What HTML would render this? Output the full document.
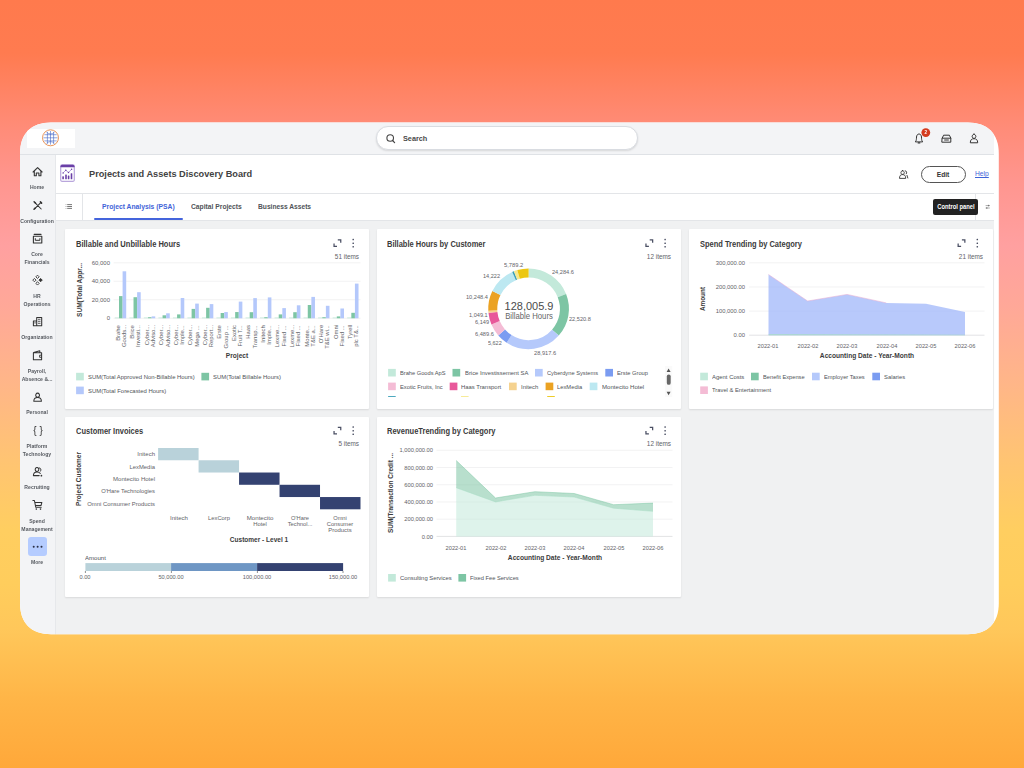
<!DOCTYPE html><html><head><meta charset="utf-8"><title>Projects and Assets Discovery Board</title><style>
*{margin:0;padding:0;box-sizing:border-box}
html,body{width:1024px;height:768px;overflow:hidden}
body{font-family:"Liberation Sans",sans-serif;position:relative;
background:linear-gradient(180deg,#ff7a4d 0%,#ff7b50 7%,#ff8b76 16%,#ff9690 24%,#ffa0a0 32%,#ffa898 40%,#ffb688 50%,#ffc472 60%,#ffce60 69%,#ffcd5c 76%,#ffc75a 82%,#ffb547 91%,#ffa83a 100%);}
.win{position:absolute;left:20px;top:122px;width:979px;height:513px;background:#fff;overflow:hidden;clip-path:path('M0 31.5C0 11.66 11.16 0.5 31 0.5L947.8 0.5C967.64 0.5 978.8 11.66 978.8 31.5L978.8 481.20C978.8 501.04 967.64 512.2 947.8 512.2L31 512.2C11.16 512.2 0 501.04 0 481.20Z')}
.inner{position:absolute;left:0;top:0;width:979px;height:513px;filter:blur(0.4px)}
.abs{position:absolute}
.t{position:absolute;white-space:nowrap;line-height:1}
.topbar{position:absolute;left:0;top:0;width:974px;height:33px;background:#f3f4f6;border-bottom:1px solid #dfe2e6}
.side{position:absolute;left:0;top:33px;width:36px;height:480px;background:#f3f4f6;border-right:1px solid #e6e8eb}
.hdr{position:absolute;left:36px;top:33px;width:938px;height:39px;background:#fff;border-bottom:1px solid #e3e5e8}
.tabs{position:absolute;left:36px;top:72px;width:938px;height:27px;background:#fff;border-bottom:1px solid #e3e5e8}
.content{position:absolute;left:36px;top:99px;width:938px;height:414px;background:#f0f1f2}
.card{position:absolute;width:304px;height:180px;background:#fff;border-radius:1px;box-shadow:0 1px 2px rgba(0,0,0,.10)}
svg{position:absolute;left:0;top:0;overflow:visible}
</style></head><body>
<div class="win"><div class="inner">
<div class="topbar"></div>
<div class="side"></div>
<div class="hdr"></div>
<div class="tabs"></div>
<div class="content"></div>
<div class="abs" style="left:7.00px;top:6.50px;width:48.00px;height:19.50px;background:#fff"></div>
<div class="abs" style="left:356.00px;top:4.30px;width:261.50px;height:23.70px;background:#fff;border-radius:12px;border:1px solid #d9dce1;box-shadow:0 1px 2px rgba(0,0,0,.12)"></div>
<div class="t" style="left:382.50px;top:13px;font-size:8px;color:#4a4a4a;font-weight:bold;transform-origin:0 50%;transform: scaleX(0.911);">Search</div>
<div class="t" style="left:69.40px;top:47px;font-size:9.5px;color:#424242;font-weight:bold;transform-origin:0 50%;transform: scaleX(0.968);">Projects and Assets Discovery Board</div>
<div class="t" style="left:82.25px;top:81px;font-size:7.4px;color:#3f63d8;font-weight:bold;transform-origin:0 50%;transform: scaleX(0.915);">Project Analysis (PSA)</div>
<div class="t" style="left:170.70px;top:81px;font-size:7.4px;color:#4f5358;font-weight:bold;transform-origin:0 50%;transform: scaleX(0.910);">Capital Projects</div>
<div class="t" style="left:237.60px;top:81px;font-size:7.4px;color:#4f5358;font-weight:bold;transform-origin:0 50%;transform: scaleX(0.901);">Business Assets</div>
<div class="abs" style="left:74.00px;top:96.00px;width:89.00px;height:2.30px;background:#4464dc;border-radius:1px"></div>
<div class="abs" style="left:62.30px;top:72.00px;width:1.00px;height:26.00px;background:#e3e5e8"></div>
<div class="abs" style="left:955.30px;top:72.00px;width:1.00px;height:26.00px;background:#e3e5e8"></div>
<div class="abs" style="left:900.80px;top:44.00px;width:45.00px;height:16.50px;border:1px solid #555;border-radius:9px;background:#fff"></div>
<div class="t" style="left:923.30px;top:49px;font-size:7.2px;color:#333;font-weight:bold;transform-origin:50% 50%;transform:translateX(-50%) scaleX(0.927);">Edit</div>
<div class="t" style="left:955.00px;top:48px;font-size:7.2px;color:#3f63d8;transform-origin:0 50%;transform: scaleX(0.932);text-decoration:underline">Help</div>
<div class="abs" style="left:913.20px;top:77.00px;width:45.00px;height:15.80px;background:#222;border-radius:2px"></div>
<div class="t" style="left:935.70px;top:82px;font-size:6.4px;color:#fff;font-weight:bold;transform-origin:50% 50%;transform:translateX(-50%) scaleX(0.909);">Control panel</div>
<div class="t" style="left:17.40px;top:63px;font-size:5.5px;color:#565a60;font-weight:bold;transform-origin:50% 50%;transform:translateX(-50%) scaleX(0.930);">Home</div>
<div class="t" style="left:17.40px;top:97px;font-size:5.5px;color:#565a60;font-weight:bold;transform-origin:50% 50%;transform:translateX(-50%) scaleX(0.930);">Configuration</div>
<div class="t" style="left:17.40px;top:130px;font-size:5.5px;color:#565a60;font-weight:bold;transform-origin:50% 50%;transform:translateX(-50%) scaleX(0.930);">Core</div>
<div class="t" style="left:17.40px;top:138px;font-size:5.5px;color:#565a60;font-weight:bold;transform-origin:50% 50%;transform:translateX(-50%) scaleX(0.930);">Financials</div>
<div class="t" style="left:17.40px;top:172px;font-size:5.5px;color:#565a60;font-weight:bold;transform-origin:50% 50%;transform:translateX(-50%) scaleX(0.930);">HR</div>
<div class="t" style="left:17.40px;top:180px;font-size:5.5px;color:#565a60;font-weight:bold;transform-origin:50% 50%;transform:translateX(-50%) scaleX(0.930);">Operations</div>
<div class="t" style="left:17.40px;top:213px;font-size:5.5px;color:#565a60;font-weight:bold;transform-origin:50% 50%;transform:translateX(-50%) scaleX(0.930);">Organization</div>
<div class="t" style="left:17.40px;top:247px;font-size:5.5px;color:#565a60;font-weight:bold;transform-origin:50% 50%;transform:translateX(-50%) scaleX(0.930);">Payroll,</div>
<div class="t" style="left:17.40px;top:255px;font-size:5.5px;color:#565a60;font-weight:bold;transform-origin:50% 50%;transform:translateX(-50%) scaleX(0.930);">Absence &amp;...</div>
<div class="t" style="left:17.40px;top:288px;font-size:5.5px;color:#565a60;font-weight:bold;transform-origin:50% 50%;transform:translateX(-50%) scaleX(0.930);">Personal</div>
<div class="t" style="left:17.40px;top:322px;font-size:5.5px;color:#565a60;font-weight:bold;transform-origin:50% 50%;transform:translateX(-50%) scaleX(0.930);">Platform</div>
<div class="t" style="left:17.40px;top:330px;font-size:5.5px;color:#565a60;font-weight:bold;transform-origin:50% 50%;transform:translateX(-50%) scaleX(0.930);">Technology</div>
<div class="t" style="left:17.40px;top:363px;font-size:5.5px;color:#565a60;font-weight:bold;transform-origin:50% 50%;transform:translateX(-50%) scaleX(0.930);">Recruiting</div>
<div class="t" style="left:17.40px;top:397px;font-size:5.5px;color:#565a60;font-weight:bold;transform-origin:50% 50%;transform:translateX(-50%) scaleX(0.930);">Spend</div>
<div class="t" style="left:17.40px;top:405px;font-size:5.5px;color:#565a60;font-weight:bold;transform-origin:50% 50%;transform:translateX(-50%) scaleX(0.930);">Management</div>
<div class="t" style="left:17.40px;top:438px;font-size:5.5px;color:#565a60;font-weight:bold;transform-origin:50% 50%;transform:translateX(-50%) scaleX(0.930);">More</div>
<div class="abs" style="left:7.75px;top:415.00px;width:19.50px;height:19.30px;background:#b5ccff;border-radius:3px"></div>
<div class="card" style="left:45px;top:107px"></div>
<div class="card" style="left:357px;top:107px"></div>
<div class="card" style="left:669px;top:107px"></div>
<div class="card" style="left:45px;top:295px"></div>
<div class="card" style="left:357px;top:295px"></div>
<div class="t" style="left:55.60px;top:118px;font-size:8.8px;color:#3b3b3b;font-weight:bold;transform-origin:0 50%;transform: scaleX(0.856);">Billable and Unbillable Hours</div>
<div class="t" style="left:367.30px;top:118px;font-size:8.8px;color:#3b3b3b;font-weight:bold;transform-origin:0 50%;transform: scaleX(0.853);">Billable Hours by Customer</div>
<div class="t" style="left:679.70px;top:118px;font-size:8.8px;color:#3b3b3b;font-weight:bold;transform-origin:0 50%;transform: scaleX(0.851);">Spend Trending by Category</div>
<div class="t" style="left:55.60px;top:305px;font-size:8.8px;color:#3b3b3b;font-weight:bold;transform-origin:0 50%;transform: scaleX(0.853);">Customer Invoices</div>
<div class="t" style="left:367.30px;top:305px;font-size:8.8px;color:#3b3b3b;font-weight:bold;transform-origin:0 50%;transform: scaleX(0.854);">RevenueTrending by Category</div>
<div class="t" style="left:338.90px;top:132px;font-size:6.8px;color:#5f6368;transform-origin:100% 50%;transform:translateX(-100%) scaleX(0.940);">51 items</div>
<div class="t" style="left:650.80px;top:132px;font-size:6.8px;color:#5f6368;transform-origin:100% 50%;transform:translateX(-100%) scaleX(0.940);">12 items</div>
<div class="t" style="left:963.00px;top:132px;font-size:6.8px;color:#5f6368;transform-origin:100% 50%;transform:translateX(-100%) scaleX(0.940);">21 items</div>
<div class="t" style="left:338.90px;top:319px;font-size:6.8px;color:#5f6368;transform-origin:100% 50%;transform:translateX(-100%) scaleX(0.940);">5 items</div>
<div class="t" style="left:650.80px;top:319px;font-size:6.8px;color:#5f6368;transform-origin:100% 50%;transform:translateX(-100%) scaleX(0.940);">12 items</div>
<div class="t" style="left:89.70px;top:138px;font-size:6.1px;color:#5f6368;transform-origin:100% 50%;transform:translateX(-100%) scaleX(0.980);">60,000</div>
<div class="t" style="left:89.70px;top:156px;font-size:6.1px;color:#5f6368;transform-origin:100% 50%;transform:translateX(-100%) scaleX(0.980);">40,000</div>
<div class="t" style="left:89.70px;top:175px;font-size:6.1px;color:#5f6368;transform-origin:100% 50%;transform:translateX(-100%) scaleX(0.980);">20,000</div>
<div class="t" style="left:89.70px;top:193px;font-size:6.1px;color:#5f6368;transform-origin:100% 50%;transform:translateX(-100%) scaleX(0.980);">0</div>
<div class="t" style="left:59.50px;top:168.00px;font-size:6.6px;color:#3b3b3b;font-weight:bold;transform-origin:50% 50%;transform:translate(-50%,-50%) rotate(-90deg) translateY(0.8%) scaleX(0.995);">SUM(Total Appr...</div>
<div class="t" style="left:97.76px;top:211.05px;font-size:6.0px;color:#5f6368;transform-origin:50% 50%;transform:translate(-50%,-50%) rotate(-90deg) translateY(0.8%) scaleX(0.980);">Brahe</div>
<div class="t" style="left:103.96px;top:214.31px;font-size:6.0px;color:#5f6368;transform-origin:50% 50%;transform:translate(-50%,-50%) rotate(-90deg) translateY(0.8%) scaleX(0.980);">Goods...</div>
<div class="t" style="left:112.28px;top:209.90px;font-size:6.0px;color:#5f6368;transform-origin:50% 50%;transform:translate(-50%,-50%) rotate(-90deg) translateY(0.8%) scaleX(0.980);">Brice</div>
<div class="t" style="left:118.48px;top:214.15px;font-size:6.0px;color:#5f6368;transform-origin:50% 50%;transform:translate(-50%,-50%) rotate(-90deg) translateY(0.8%) scaleX(0.980);">Investi...</div>
<div class="t" style="left:126.80px;top:213.33px;font-size:6.0px;color:#5f6368;transform-origin:50% 50%;transform:translate(-50%,-50%) rotate(-90deg) translateY(0.8%) scaleX(0.980);">Cyber...</div>
<div class="t" style="left:133.00px;top:214.47px;font-size:6.0px;color:#5f6368;transform-origin:50% 50%;transform:translate(-50%,-50%) rotate(-90deg) translateY(0.8%) scaleX(0.980);">Adviso...</div>
<div class="t" style="left:141.32px;top:213.33px;font-size:6.0px;color:#5f6368;transform-origin:50% 50%;transform:translate(-50%,-50%) rotate(-90deg) translateY(0.8%) scaleX(0.980);">Cyber...</div>
<div class="t" style="left:147.52px;top:214.47px;font-size:6.0px;color:#5f6368;transform-origin:50% 50%;transform:translate(-50%,-50%) rotate(-90deg) translateY(0.8%) scaleX(0.980);">Adviso...</div>
<div class="t" style="left:155.84px;top:213.33px;font-size:6.0px;color:#5f6368;transform-origin:50% 50%;transform:translate(-50%,-50%) rotate(-90deg) translateY(0.8%) scaleX(0.980);">Cyber...</div>
<div class="t" style="left:162.04px;top:212.84px;font-size:6.0px;color:#5f6368;transform-origin:50% 50%;transform:translate(-50%,-50%) rotate(-90deg) translateY(0.8%) scaleX(0.980);">Imple...</div>
<div class="t" style="left:170.36px;top:213.33px;font-size:6.0px;color:#5f6368;transform-origin:50% 50%;transform:translate(-50%,-50%) rotate(-90deg) translateY(0.8%) scaleX(0.980);">Cyber...</div>
<div class="t" style="left:176.56px;top:213.82px;font-size:6.0px;color:#5f6368;transform-origin:50% 50%;transform:translate(-50%,-50%) rotate(-90deg) translateY(0.8%) scaleX(0.980);">Mega ...</div>
<div class="t" style="left:184.88px;top:213.33px;font-size:6.0px;color:#5f6368;transform-origin:50% 50%;transform:translate(-50%,-50%) rotate(-90deg) translateY(0.8%) scaleX(0.980);">Cyber...</div>
<div class="t" style="left:191.08px;top:214.47px;font-size:6.0px;color:#5f6368;transform-origin:50% 50%;transform:translate(-50%,-50%) rotate(-90deg) translateY(0.8%) scaleX(0.980);">Report...</div>
<div class="t" style="left:199.40px;top:210.06px;font-size:6.0px;color:#5f6368;transform-origin:50% 50%;transform:translate(-50%,-50%) rotate(-90deg) translateY(0.8%) scaleX(0.980);">Erste</div>
<div class="t" style="left:205.60px;top:214.64px;font-size:6.0px;color:#5f6368;transform-origin:50% 50%;transform:translate(-50%,-50%) rotate(-90deg) translateY(0.8%) scaleX(0.980);">Group ...</div>
<div class="t" style="left:213.92px;top:211.21px;font-size:6.0px;color:#5f6368;transform-origin:50% 50%;transform:translate(-50%,-50%) rotate(-90deg) translateY(0.8%) scaleX(0.980);">Exotic</div>
<div class="t" style="left:220.12px;top:213.76px;font-size:6.0px;color:#5f6368;transform-origin:50% 50%;transform:translate(-50%,-50%) rotate(-90deg) translateY(0.8%) scaleX(0.980);">Fruit T...</div>
<div class="t" style="left:228.44px;top:210.06px;font-size:6.0px;color:#5f6368;transform-origin:50% 50%;transform:translate(-50%,-50%) rotate(-90deg) translateY(0.8%) scaleX(0.980);">Haas</div>
<div class="t" style="left:234.64px;top:214.69px;font-size:6.0px;color:#5f6368;transform-origin:50% 50%;transform:translate(-50%,-50%) rotate(-90deg) translateY(0.8%) scaleX(0.980);">Transp...</div>
<div class="t" style="left:242.96px;top:211.86px;font-size:6.0px;color:#5f6368;transform-origin:50% 50%;transform:translate(-50%,-50%) rotate(-90deg) translateY(0.8%) scaleX(0.980);">Initech</div>
<div class="t" style="left:249.16px;top:212.84px;font-size:6.0px;color:#5f6368;transform-origin:50% 50%;transform:translate(-50%,-50%) rotate(-90deg) translateY(0.8%) scaleX(0.980);">Imple...</div>
<div class="t" style="left:257.48px;top:214.47px;font-size:6.0px;color:#5f6368;transform-origin:50% 50%;transform:translate(-50%,-50%) rotate(-90deg) translateY(0.8%) scaleX(0.980);">Lexme...</div>
<div class="t" style="left:263.68px;top:213.66px;font-size:6.0px;color:#5f6368;transform-origin:50% 50%;transform:translate(-50%,-50%) rotate(-90deg) translateY(0.8%) scaleX(0.980);">Fixed ...</div>
<div class="t" style="left:272.00px;top:214.47px;font-size:6.0px;color:#5f6368;transform-origin:50% 50%;transform:translate(-50%,-50%) rotate(-90deg) translateY(0.8%) scaleX(0.980);">Lexme...</div>
<div class="t" style="left:278.20px;top:213.66px;font-size:6.0px;color:#5f6368;transform-origin:50% 50%;transform:translate(-50%,-50%) rotate(-90deg) translateY(0.8%) scaleX(0.980);">Fixed ...</div>
<div class="t" style="left:286.52px;top:213.82px;font-size:6.0px;color:#5f6368;transform-origin:50% 50%;transform:translate(-50%,-50%) rotate(-90deg) translateY(0.8%) scaleX(0.980);">Monte...</div>
<div class="t" style="left:292.72px;top:213.82px;font-size:6.0px;color:#5f6368;transform-origin:50% 50%;transform:translate(-50%,-50%) rotate(-90deg) translateY(0.8%) scaleX(0.980);">T&amp;E a...</div>
<div class="t" style="left:301.04px;top:212.42px;font-size:6.0px;color:#5f6368;transform-origin:50% 50%;transform:translate(-50%,-50%) rotate(-90deg) translateY(0.8%) scaleX(0.980);">O'Hare</div>
<div class="t" style="left:307.24px;top:214.96px;font-size:6.0px;color:#5f6368;transform-origin:50% 50%;transform:translate(-50%,-50%) rotate(-90deg) translateY(0.8%) scaleX(0.980);">T&amp;E wi...</div>
<div class="t" style="left:315.56px;top:210.22px;font-size:6.0px;color:#5f6368;transform-origin:50% 50%;transform:translate(-50%,-50%) rotate(-90deg) translateY(0.8%) scaleX(0.980);">Omni</div>
<div class="t" style="left:321.76px;top:213.66px;font-size:6.0px;color:#5f6368;transform-origin:50% 50%;transform:translate(-50%,-50%) rotate(-90deg) translateY(0.8%) scaleX(0.980);">Fixed ...</div>
<div class="t" style="left:330.08px;top:210.22px;font-size:6.0px;color:#5f6368;transform-origin:50% 50%;transform:translate(-50%,-50%) rotate(-90deg) translateY(0.8%) scaleX(0.980);">Tyrell</div>
<div class="t" style="left:336.28px;top:213.93px;font-size:6.0px;color:#5f6368;transform-origin:50% 50%;transform:translate(-50%,-50%) rotate(-90deg) translateY(0.8%) scaleX(0.980);">plc T&amp;...</div>
<div class="t" style="left:217.20px;top:230px;font-size:7.2px;color:#3b3b3b;font-weight:bold;transform-origin:50% 50%;transform:translateX(-50%) scaleX(0.914);">Project</div>
<div class="t" style="left:67.80px;top:252px;font-size:6.2px;color:#4f5358;transform-origin:0 50%;transform: scaleX(0.952);">SUM(Total Approved Non-Billable Hours)</div>
<div class="t" style="left:193.10px;top:252px;font-size:6.2px;color:#4f5358;transform-origin:0 50%;transform: scaleX(0.958);">SUM(Total Billable Hours)</div>
<div class="t" style="left:67.80px;top:266px;font-size:6.2px;color:#4f5358;transform-origin:0 50%;transform: scaleX(0.956);">SUM(Total Forecasted Hours)</div>
<div class="t" style="left:483.90px;top:140px;font-size:6.1px;color:#5f6368;transform-origin:0 50%;transform: scaleX(0.943);">5,789.2</div>
<div class="t" style="left:532.00px;top:147px;font-size:6.1px;color:#5f6368;transform-origin:0 50%;transform: scaleX(0.922);">24,284.6</div>
<div class="t" style="left:463.00px;top:151px;font-size:6.1px;color:#5f6368;transform-origin:0 50%;transform: scaleX(0.911);">14,222</div>
<div class="t" style="left:446.40px;top:172px;font-size:6.1px;color:#5f6368;transform-origin:0 50%;transform: scaleX(0.920);">10,248.4</div>
<div class="t" style="left:448.90px;top:190px;font-size:6.1px;color:#5f6368;transform-origin:0 50%;transform: scaleX(0.919);">1,049.1</div>
<div class="t" style="left:455.00px;top:197px;font-size:6.1px;color:#5f6368;transform-origin:0 50%;transform: scaleX(0.917);">6,149</div>
<div class="t" style="left:455.00px;top:209px;font-size:6.1px;color:#5f6368;transform-origin:0 50%;transform: scaleX(0.929);">6,489.6</div>
<div class="t" style="left:468.00px;top:218px;font-size:6.1px;color:#5f6368;transform-origin:0 50%;transform: scaleX(0.897);">5,622</div>
<div class="t" style="left:514.30px;top:228px;font-size:6.1px;color:#5f6368;transform-origin:0 50%;transform: scaleX(0.931);">28,917.6</div>
<div class="t" style="left:549.20px;top:194px;font-size:6.1px;color:#5f6368;transform-origin:0 50%;transform: scaleX(0.918);">22,520.8</div>
<div class="t" style="left:508.70px;top:179px;font-size:10.8px;color:#4a4a4a;transform-origin:50% 50%;transform:translateX(-50%) scaleX(1.016);">128,005.9</div>
<div class="t" style="left:508.60px;top:191px;font-size:8.2px;color:#666;transform-origin:50% 50%;transform:translateX(-50%) scaleX(0.945);">Billable Hours</div>
<div class="t" style="left:379.80px;top:248px;font-size:6.2px;color:#4f5358;transform-origin:0 50%;transform: scaleX(0.919);">Brahe Goods ApS</div>
<div class="t" style="left:444.50px;top:248px;font-size:6.2px;color:#4f5358;transform-origin:0 50%;transform: scaleX(0.944);">Brice Investissement SA</div>
<div class="t" style="left:526.90px;top:248px;font-size:6.2px;color:#4f5358;transform-origin:0 50%;transform: scaleX(0.921);">Cyberdyne Systems</div>
<div class="t" style="left:597.10px;top:248px;font-size:6.2px;color:#4f5358;transform-origin:0 50%;transform: scaleX(0.930);">Erste Group</div>
<div class="t" style="left:379.80px;top:262px;font-size:6.2px;color:#4f5358;transform-origin:0 50%;transform: scaleX(0.934);">Exotic Fruits, Inc</div>
<div class="t" style="left:441.40px;top:262px;font-size:6.2px;color:#4f5358;transform-origin:0 50%;transform: scaleX(0.951);">Haas Transport</div>
<div class="t" style="left:500.75px;top:262px;font-size:6.2px;color:#4f5358;transform-origin:0 50%;transform: scaleX(0.950);">Initech</div>
<div class="t" style="left:537.40px;top:262px;font-size:6.2px;color:#4f5358;transform-origin:0 50%;transform: scaleX(0.937);">LexMedia</div>
<div class="t" style="left:581.70px;top:262px;font-size:6.2px;color:#4f5358;transform-origin:0 50%;transform: scaleX(0.982);">Montecito Hotel</div>
<div class="t" style="left:725.30px;top:138px;font-size:6.1px;color:#5f6368;transform-origin:100% 50%;transform:translateX(-100%) scaleX(0.960);">300,000.00</div>
<div class="t" style="left:725.30px;top:162px;font-size:6.1px;color:#5f6368;transform-origin:100% 50%;transform:translateX(-100%) scaleX(0.960);">200,000.00</div>
<div class="t" style="left:725.30px;top:186px;font-size:6.1px;color:#5f6368;transform-origin:100% 50%;transform:translateX(-100%) scaleX(0.960);">100,000.00</div>
<div class="t" style="left:725.30px;top:210px;font-size:6.1px;color:#5f6368;transform-origin:100% 50%;transform:translateX(-100%) scaleX(0.960);">0.00</div>
<div class="t" style="left:683.10px;top:177.00px;font-size:6.6px;color:#3b3b3b;font-weight:bold;transform-origin:50% 50%;transform:translate(-50%,-50%) rotate(-90deg) translateY(0.8%) scaleX(0.963);">Amount</div>
<div class="t" style="left:748.40px;top:221px;font-size:6.1px;color:#5f6368;transform-origin:50% 50%;transform:translateX(-50%) scaleX(0.929);">2022-01</div>
<div class="t" style="left:787.78px;top:221px;font-size:6.1px;color:#5f6368;transform-origin:50% 50%;transform:translateX(-50%) scaleX(0.929);">2022-02</div>
<div class="t" style="left:827.16px;top:221px;font-size:6.1px;color:#5f6368;transform-origin:50% 50%;transform:translateX(-50%) scaleX(0.929);">2022-03</div>
<div class="t" style="left:866.54px;top:221px;font-size:6.1px;color:#5f6368;transform-origin:50% 50%;transform:translateX(-50%) scaleX(0.929);">2022-04</div>
<div class="t" style="left:905.92px;top:221px;font-size:6.1px;color:#5f6368;transform-origin:50% 50%;transform:translateX(-50%) scaleX(0.929);">2022-05</div>
<div class="t" style="left:945.30px;top:221px;font-size:6.1px;color:#5f6368;transform-origin:50% 50%;transform:translateX(-50%) scaleX(0.929);">2022-06</div>
<div class="t" style="left:846.90px;top:230px;font-size:7.2px;color:#3b3b3b;font-weight:bold;transform-origin:50% 50%;transform:translateX(-50%) scaleX(0.920);">Accounting Date - Year-Month</div>
<div class="t" style="left:692.00px;top:252px;font-size:6.2px;color:#4f5358;transform-origin:0 50%;transform: scaleX(0.959);">Agent Costs</div>
<div class="t" style="left:743.00px;top:252px;font-size:6.2px;color:#4f5358;transform-origin:0 50%;transform: scaleX(0.924);">Benefit Expense</div>
<div class="t" style="left:803.90px;top:252px;font-size:6.2px;color:#4f5358;transform-origin:0 50%;transform: scaleX(0.927);">Employer Taxes</div>
<div class="t" style="left:863.90px;top:252px;font-size:6.2px;color:#4f5358;transform-origin:0 50%;transform: scaleX(0.942);">Salaries</div>
<div class="t" style="left:692.00px;top:265px;font-size:6.2px;color:#4f5358;transform-origin:0 50%;transform: scaleX(0.937);">Travel &amp; Entertainment</div>
<div class="t" style="left:134.80px;top:329px;font-size:6.2px;color:#5f6368;transform-origin:100% 50%;transform:translateX(-100%) scaleX(0.974);">Initech</div>
<div class="t" style="left:134.80px;top:342px;font-size:6.2px;color:#5f6368;transform-origin:100% 50%;transform:translateX(-100%) scaleX(0.952);">LexMedia</div>
<div class="t" style="left:134.80px;top:354px;font-size:6.2px;color:#5f6368;transform-origin:100% 50%;transform:translateX(-100%) scaleX(0.977);">Montecito Hotel</div>
<div class="t" style="left:134.80px;top:366px;font-size:6.2px;color:#5f6368;transform-origin:100% 50%;transform:translateX(-100%) scaleX(0.942);">O'Hare Technologies</div>
<div class="t" style="left:134.80px;top:379px;font-size:6.2px;color:#5f6368;transform-origin:100% 50%;transform:translateX(-100%) scaleX(0.952);">Omni Consumer Products</div>
<div class="t" style="left:59.00px;top:356.80px;font-size:6.6px;color:#3b3b3b;font-weight:bold;transform-origin:50% 50%;transform:translate(-50%,-50%) rotate(-90deg) translateY(0.8%) scaleX(0.982);">Project Customer</div>
<div class="t" style="left:158.75px;top:393px;font-size:6.2px;color:#5f6368;transform-origin:50% 50%;transform:translateX(-50%) scaleX(0.985);">Initech</div>
<div class="t" style="left:199.00px;top:393px;font-size:6.2px;color:#5f6368;transform-origin:50% 50%;transform:translateX(-50%) scaleX(0.934);">LexCorp</div>
<div class="t" style="left:239.50px;top:393px;font-size:6.2px;color:#5f6368;transform-origin:50% 50%;transform:translateX(-50%) scaleX(0.993);">Montecito</div>
<div class="t" style="left:239.50px;top:399px;font-size:6.2px;color:#5f6368;transform-origin:50% 50%;transform:translateX(-50%) scaleX(0.950);">Hotel</div>
<div class="t" style="left:279.80px;top:393px;font-size:6.2px;color:#5f6368;transform-origin:50% 50%;transform:translateX(-50%) scaleX(0.926);">O'Hare</div>
<div class="t" style="left:279.80px;top:399px;font-size:6.2px;color:#5f6368;transform-origin:50% 50%;transform:translateX(-50%) scaleX(0.931);">Technol...</div>
<div class="t" style="left:320.20px;top:393px;font-size:6.2px;color:#5f6368;transform-origin:50% 50%;transform:translateX(-50%) scaleX(0.918);">Omni</div>
<div class="t" style="left:320.20px;top:399px;font-size:6.2px;color:#5f6368;transform-origin:50% 50%;transform:translateX(-50%) scaleX(0.930);">Consumer</div>
<div class="t" style="left:320.20px;top:405px;font-size:6.2px;color:#5f6368;transform-origin:50% 50%;transform:translateX(-50%) scaleX(0.956);">Products</div>
<div class="t" style="left:239.30px;top:414px;font-size:7.2px;color:#3b3b3b;font-weight:bold;transform-origin:50% 50%;transform:translateX(-50%) scaleX(0.908);">Customer - Level 1</div>
<div class="t" style="left:65.40px;top:433px;font-size:6.1px;color:#4f5358;transform-origin:0 50%;transform: scaleX(0.994);">Amount</div>
<div class="t" style="left:65.40px;top:452px;font-size:6.1px;color:#5f6368;transform-origin:50% 50%;transform:translateX(-50%) scaleX(0.930);">0.00</div>
<div class="t" style="left:151.40px;top:452px;font-size:6.1px;color:#5f6368;transform-origin:50% 50%;transform:translateX(-50%) scaleX(0.930);">50,000.00</div>
<div class="t" style="left:237.40px;top:452px;font-size:6.1px;color:#5f6368;transform-origin:50% 50%;transform:translateX(-50%) scaleX(0.930);">100,000.00</div>
<div class="t" style="left:323.00px;top:452px;font-size:6.1px;color:#5f6368;transform-origin:50% 50%;transform:translateX(-50%) scaleX(0.930);">150,000.00</div>
<div class="t" style="left:413.00px;top:325px;font-size:6.1px;color:#5f6368;transform-origin:100% 50%;transform:translateX(-100%) scaleX(0.940);">1,000,000.00</div>
<div class="t" style="left:413.00px;top:343px;font-size:6.1px;color:#5f6368;transform-origin:100% 50%;transform:translateX(-100%) scaleX(0.940);">800,000.00</div>
<div class="t" style="left:413.00px;top:360px;font-size:6.1px;color:#5f6368;transform-origin:100% 50%;transform:translateX(-100%) scaleX(0.940);">600,000.00</div>
<div class="t" style="left:413.00px;top:377px;font-size:6.1px;color:#5f6368;transform-origin:100% 50%;transform:translateX(-100%) scaleX(0.940);">400,000.00</div>
<div class="t" style="left:413.00px;top:394px;font-size:6.1px;color:#5f6368;transform-origin:100% 50%;transform:translateX(-100%) scaleX(0.940);">200,000.00</div>
<div class="t" style="left:413.00px;top:412px;font-size:6.1px;color:#5f6368;transform-origin:100% 50%;transform:translateX(-100%) scaleX(0.940);">0.00</div>
<div class="t" style="left:371.00px;top:371.00px;font-size:6.6px;color:#3b3b3b;font-weight:bold;transform-origin:50% 50%;transform:translate(-50%,-50%) rotate(-90deg) translateY(0.8%) scaleX(0.974);">SUM(Transaction Credit ...</div>
<div class="t" style="left:436.20px;top:423px;font-size:6.1px;color:#5f6368;transform-origin:50% 50%;transform:translateX(-50%) scaleX(0.929);">2022-01</div>
<div class="t" style="left:475.56px;top:423px;font-size:6.1px;color:#5f6368;transform-origin:50% 50%;transform:translateX(-50%) scaleX(0.929);">2022-02</div>
<div class="t" style="left:514.92px;top:423px;font-size:6.1px;color:#5f6368;transform-origin:50% 50%;transform:translateX(-50%) scaleX(0.929);">2022-03</div>
<div class="t" style="left:554.28px;top:423px;font-size:6.1px;color:#5f6368;transform-origin:50% 50%;transform:translateX(-50%) scaleX(0.929);">2022-04</div>
<div class="t" style="left:593.64px;top:423px;font-size:6.1px;color:#5f6368;transform-origin:50% 50%;transform:translateX(-50%) scaleX(0.929);">2022-05</div>
<div class="t" style="left:633.00px;top:423px;font-size:6.1px;color:#5f6368;transform-origin:50% 50%;transform:translateX(-50%) scaleX(0.929);">2022-06</div>
<div class="t" style="left:534.70px;top:432px;font-size:7.2px;color:#3b3b3b;font-weight:bold;transform-origin:50% 50%;transform:translateX(-50%) scaleX(0.920);">Accounting Date - Year-Month</div>
<div class="t" style="left:379.80px;top:453px;font-size:6.2px;color:#4f5358;transform-origin:0 50%;transform: scaleX(0.945);">Consulting Services</div>
<div class="t" style="left:450.10px;top:453px;font-size:6.2px;color:#4f5358;transform-origin:0 50%;transform: scaleX(0.920);">Fixed Fee Services</div>
<div class="t" style="left:17.60px;top:303px;font-size:10.5px;color:#333;transform-origin:50% 50%;transform:translateX(-50%) scaleX(0.950);">{ }</div>
<svg width="979" height="512" viewBox="20 122 979 512"><line x1="113.6" x2="360.5" y1="262.8" y2="262.8" stroke="#ececee" stroke-width="0.7"/><line x1="113.6" x2="360.5" y1="281.25" y2="281.25" stroke="#ececee" stroke-width="0.7"/><line x1="113.6" x2="360.5" y1="299.7" y2="299.7" stroke="#ececee" stroke-width="0.7"/><line x1="113.6" x2="360.5" y1="318.3" y2="318.3" stroke="#ececee" stroke-width="0.7"/><rect x="114.80" y="317.5" width="4.2" height="0.8" fill="#c3e9da"/><rect x="119.00" y="296.10" width="3.6" height="22.20" fill="#7dc5a4"/><rect x="122.60" y="271.30" width="3.6" height="47.00" fill="#b4c8fb"/><rect x="129.32" y="317.5" width="4.2" height="0.8" fill="#c3e9da"/><rect x="133.52" y="297.20" width="3.6" height="21.10" fill="#7dc5a4"/><rect x="137.12" y="292.20" width="3.6" height="26.10" fill="#b4c8fb"/><rect x="143.84" y="317.5" width="4.2" height="0.8" fill="#c3e9da"/><rect x="148.04" y="317.20" width="3.6" height="1.10" fill="#7dc5a4"/><rect x="151.64" y="316.40" width="3.6" height="1.90" fill="#b4c8fb"/><rect x="158.36" y="317.5" width="4.2" height="0.8" fill="#c3e9da"/><rect x="162.56" y="315.30" width="3.6" height="3.00" fill="#7dc5a4"/><rect x="166.16" y="313.30" width="3.6" height="5.00" fill="#b4c8fb"/><rect x="172.88" y="317.5" width="4.2" height="0.8" fill="#c3e9da"/><rect x="177.08" y="314.40" width="3.6" height="3.90" fill="#7dc5a4"/><rect x="180.68" y="298.00" width="3.6" height="20.30" fill="#b4c8fb"/><rect x="187.40" y="317.5" width="4.2" height="0.8" fill="#c3e9da"/><rect x="191.60" y="308.90" width="3.6" height="9.40" fill="#7dc5a4"/><rect x="195.20" y="303.60" width="3.6" height="14.70" fill="#b4c8fb"/><rect x="201.92" y="317.5" width="4.2" height="0.8" fill="#c3e9da"/><rect x="206.12" y="307.80" width="3.6" height="10.50" fill="#7dc5a4"/><rect x="209.72" y="304.10" width="3.6" height="14.20" fill="#b4c8fb"/><rect x="216.44" y="317.5" width="4.2" height="0.8" fill="#c3e9da"/><rect x="220.64" y="313.00" width="3.6" height="5.30" fill="#7dc5a4"/><rect x="224.24" y="312.05" width="3.6" height="6.25" fill="#b4c8fb"/><rect x="230.96" y="317.5" width="4.2" height="0.8" fill="#c3e9da"/><rect x="235.16" y="312.05" width="3.6" height="6.25" fill="#7dc5a4"/><rect x="238.76" y="301.60" width="3.6" height="16.70" fill="#b4c8fb"/><rect x="245.48" y="317.5" width="4.2" height="0.8" fill="#c3e9da"/><rect x="249.68" y="312.20" width="3.6" height="6.10" fill="#7dc5a4"/><rect x="253.28" y="298.10" width="3.6" height="20.20" fill="#b4c8fb"/><rect x="260.00" y="317.5" width="4.2" height="0.8" fill="#c3e9da"/><rect x="264.20" y="317.20" width="3.6" height="1.10" fill="#7dc5a4"/><rect x="267.80" y="297.40" width="3.6" height="20.90" fill="#b4c8fb"/><rect x="274.52" y="317.5" width="4.2" height="0.8" fill="#c3e9da"/><rect x="278.72" y="314.40" width="3.6" height="3.90" fill="#7dc5a4"/><rect x="282.32" y="308.10" width="3.6" height="10.20" fill="#b4c8fb"/><rect x="289.04" y="317.5" width="4.2" height="0.8" fill="#c3e9da"/><rect x="293.24" y="312.20" width="3.6" height="6.10" fill="#7dc5a4"/><rect x="296.84" y="305.30" width="3.6" height="13.00" fill="#b4c8fb"/><rect x="303.56" y="317.5" width="4.2" height="0.8" fill="#c3e9da"/><rect x="307.76" y="305.00" width="3.6" height="13.30" fill="#7dc5a4"/><rect x="311.36" y="296.90" width="3.6" height="21.40" fill="#b4c8fb"/><rect x="318.08" y="317.5" width="4.2" height="0.8" fill="#c3e9da"/><rect x="322.28" y="317.20" width="3.6" height="1.10" fill="#7dc5a4"/><rect x="325.88" y="305.80" width="3.6" height="12.50" fill="#b4c8fb"/><rect x="332.60" y="317.5" width="4.2" height="0.8" fill="#c3e9da"/><rect x="336.80" y="316.40" width="3.6" height="1.90" fill="#7dc5a4"/><rect x="340.40" y="308.50" width="3.6" height="9.80" fill="#b4c8fb"/><rect x="347.12" y="317.5" width="4.2" height="0.8" fill="#c3e9da"/><rect x="351.32" y="312.80" width="3.6" height="5.50" fill="#7dc5a4"/><rect x="354.92" y="283.60" width="3.6" height="34.70" fill="#b4c8fb"/><rect x="76.10" y="372.80" width="7.7" height="7.6" fill="#c3e9da"/><rect x="201.40" y="372.80" width="7.7" height="7.6" fill="#7dc5a4"/><rect x="76.10" y="386.60" width="7.7" height="7.6" fill="#b4c8fb"/><path d="M528.60 272.95A35.85 35.85 0 0 1 561.91 295.54" fill="none" stroke="#c3e9da" stroke-width="9"/><path d="M561.91 295.54A35.85 35.85 0 0 1 555.39 332.62" fill="none" stroke="#7dc5a4" stroke-width="9"/><path d="M555.39 332.62A35.85 35.85 0 0 1 509.10 338.88" fill="none" stroke="#b5c9fb" stroke-width="9"/><path d="M509.10 338.88A35.85 35.85 0 0 1 501.64 332.43" fill="none" stroke="#7b9cf1" stroke-width="9"/><path d="M501.64 332.43A35.85 35.85 0 0 1 495.59 322.79" fill="none" stroke="#f4bcd5" stroke-width="9"/><path d="M495.59 322.79A35.85 35.85 0 0 1 492.93 312.35" fill="none" stroke="#e8589a" stroke-width="9"/><path d="M492.93 312.35A35.85 35.85 0 0 1 492.79 310.51" fill="none" stroke="#f5d28f" stroke-width="9"/><path d="M492.79 310.51A35.85 35.85 0 0 1 496.40 293.03" fill="none" stroke="#eba223" stroke-width="9"/><path d="M496.40 293.03A35.85 35.85 0 0 1 514.07 276.03" fill="none" stroke="#bce8f1" stroke-width="9"/><path d="M514.07 276.03A35.85 35.85 0 0 1 515.53 275.42" fill="none" stroke="#3aa0b8" stroke-width="9"/><path d="M515.53 275.42A35.85 35.85 0 0 1 518.55 274.39" fill="none" stroke="#f7e98e" stroke-width="9"/><path d="M518.55 274.39A35.85 35.85 0 0 1 528.60 272.95" fill="none" stroke="#ecc711" stroke-width="9"/><rect x="388.10" y="368.90" width="7.7" height="7.6" fill="#c3e9da"/><rect x="452.50" y="368.90" width="7.7" height="7.6" fill="#7dc5a4"/><rect x="535.00" y="368.90" width="7.7" height="7.6" fill="#b5c9fb"/><rect x="605.30" y="368.90" width="7.7" height="7.6" fill="#7b9cf1"/><rect x="388.10" y="382.60" width="7.7" height="7.6" fill="#f4bcd5"/><rect x="449.70" y="382.60" width="7.7" height="7.6" fill="#e8589a"/><rect x="509.00" y="382.60" width="7.7" height="7.6" fill="#f5d28f"/><rect x="545.60" y="382.60" width="7.7" height="7.6" fill="#eba223"/><rect x="589.70" y="382.60" width="7.7" height="7.6" fill="#bce8f1"/><rect x="388.1" y="396.1" width="7.6" height="0.9" fill="#3aa0b8"/><rect x="461" y="396.1" width="7.6" height="0.9" fill="#f7e98e"/><rect x="547.2" y="396.1" width="7.6" height="0.9" fill="#ecc711"/><rect x="665" y="366" width="7.2" height="31" fill="#fafafa"/><path d="M666.6 372h4l-2-3.4z" fill="#555"/><path d="M666.6 391.8h4l-2 3.4z" fill="#555"/><rect x="666.8" y="374.5" width="3.9" height="10.3" rx="1.9" fill="#666"/><line x1="749.2" x2="984.5" y1="262.8" y2="262.8" stroke="#ececee" stroke-width="0.7"/><line x1="749.2" x2="984.5" y1="287" y2="287" stroke="#ececee" stroke-width="0.7"/><line x1="749.2" x2="984.5" y1="311.1" y2="311.1" stroke="#ececee" stroke-width="0.7"/><line x1="749.2" x2="984.5" y1="335.2" y2="335.2" stroke="#d5d7da" stroke-width="0.7"/><path d="M768.5 335.2L768.5 274.5L807.6 301L847 294.4L886.3 302.9L926 303.7L965 312.1L965 335.2Z" fill="#a6bbfa" fill-opacity="0.8"/><path d="M768.5 274.5L807.6 301L847 294.4L886.3 302.9" fill="none" stroke="#e7a8cf" stroke-width="0.5"/><path d="M768.7 335.2L768.7 334.3L965 334.8L965 335.2Z" fill="#a9dcc6"/><rect x="700.20" y="372.70" width="7.7" height="7.6" fill="#c3e9da"/><rect x="751.00" y="372.70" width="7.7" height="7.6" fill="#7dc5a4"/><rect x="812.00" y="372.70" width="7.7" height="7.6" fill="#b5c9fb"/><rect x="872.30" y="372.70" width="7.7" height="7.6" fill="#7b9cf1"/><rect x="700.20" y="386.40" width="7.7" height="7.6" fill="#f4bcd5"/><rect x="158.10" y="448.00" width="40.48" height="12.26" fill="#b9d2da"/><rect x="198.58" y="460.26" width="40.48" height="12.26" fill="#b9d2da"/><rect x="239.06" y="472.52" width="40.48" height="12.26" fill="#344271"/><rect x="279.54" y="484.78" width="40.48" height="12.26" fill="#344271"/><rect x="320.02" y="497.04" width="40.48" height="12.26" fill="#344271"/><rect x="85.4" y="563.1" width="86" height="7.9" fill="#b9d2da"/><rect x="171.1" y="563.1" width="86" height="7.9" fill="#6e96c4"/><rect x="257.1" y="563.1" width="86" height="7.9" fill="#344271"/><line x1="85.4" x2="85.4" y1="571" y2="573" stroke="#444" stroke-width="0.6"/><line x1="171.4" x2="171.4" y1="571" y2="573" stroke="#444" stroke-width="0.6"/><line x1="257.4" x2="257.4" y1="571" y2="573" stroke="#444" stroke-width="0.6"/><line x1="343" x2="343" y1="571" y2="573" stroke="#444" stroke-width="0.6"/><line x1="436.5" x2="672.5" y1="450.30" y2="450.30" stroke="#ececee" stroke-width="0.7"/><line x1="436.5" x2="672.5" y1="467.52" y2="467.52" stroke="#ececee" stroke-width="0.7"/><line x1="436.5" x2="672.5" y1="484.74" y2="484.74" stroke="#ececee" stroke-width="0.7"/><line x1="436.5" x2="672.5" y1="501.96" y2="501.96" stroke="#ececee" stroke-width="0.7"/><line x1="436.5" x2="672.5" y1="519.18" y2="519.18" stroke="#ececee" stroke-width="0.7"/><line x1="436.5" x2="672.5" y1="536.40" y2="536.40" stroke="#d5d7da" stroke-width="0.7"/><path d="M456.2 536.4L456.2 487.7L495.5 501.9L534.9 495.3L574.2 497L613.6 508.2L653 511.3L653 536.4Z" fill="#c3e9da" fill-opacity="0.55"/><path d="M456.2 487.7L495.5 501.9L534.9 495.3L574.2 497L613.6 508.2L653 511.3L653 503.1L613.6 504.7L574.2 493.5L534.9 491.7L495.5 498L456.2 460.5Z" fill="#7dc5a4" fill-opacity="0.55"/><path d="M456.2 460.5L495.5 498L534.9 491.7L574.2 493.5L613.6 504.7L653 503.1" fill="none" stroke="#7dc5a4" stroke-opacity="0.55" stroke-width="0.9"/><path d="M456.2 487.7L495.5 501.9L534.9 495.3L574.2 497L613.6 508.2L653 511.3" fill="none" stroke="#a9dcc6" stroke-opacity="0.7" stroke-width="0.8"/><rect x="388.10" y="574.00" width="7.7" height="7.6" fill="#c3e9da"/><rect x="458.40" y="574.00" width="7.7" height="7.6" fill="#7dc5a4"/><circle cx="50.5" cy="137.8" r="8.0" fill="#fff" stroke="#e8955a" stroke-width="1"/><g stroke="#4a6bc8" stroke-width="0.62" fill="none"><path d="M50.5 131V144.6M47.4 131.8V143.8M53.6 131.8V143.8M43.4 137.8H57.6M44.3 134.7H56.7M44.3 140.9H56.7"/><path d="M46.6 132.3Q50.5 135.6 54.4 132.3M46.6 143.3Q50.5 140 54.4 143.3" stroke-width="0.6"/></g><rect x="60.7" y="164.8" width="13.6" height="16.5" rx="1.2" fill="#fff" stroke="#b9a6dc" stroke-width="1.2"/><path d="M60.6 166.2a1.5 1.5 0 0 1 1.5-1.5h10.8a1.5 1.5 0 0 1 1.5 1.5v1.1h-13.8z" fill="#6a3fa6"/><path d="M63.1 172.9L65.8 170.2L68.5 172.5L71.6 169.3" fill="none" stroke="#a78bd6" stroke-width="0.8"/><circle cx="63.1" cy="172.9" r="0.75" fill="#6a3fa6"/><circle cx="65.8" cy="170.2" r="0.75" fill="#6a3fa6"/><circle cx="68.5" cy="172.5" r="0.75" fill="#6a3fa6"/><circle cx="71.6" cy="169.3" r="0.75" fill="#6a3fa6"/><rect x="62.300000000000004" y="176.2" width="1.6" height="3.00" rx="0.5" fill="#6a3fa6"/><rect x="65.2" y="174.4" width="1.6" height="4.80" rx="0.5" fill="#6a3fa6"/><rect x="67.8" y="175.6" width="1.6" height="3.60" rx="0.5" fill="#6a3fa6"/><rect x="70.7" y="173.2" width="1.6" height="6.00" rx="0.5" fill="#6a3fa6"/><path d="M33.1 172L37.6 167.7L42.1 172M34.3 171.3V175.8H36.3V173H38.9V175.8H40.9V171.3" fill="none" stroke="#333" stroke-width="1.1" stroke-linejoin="round" stroke-linecap="round" /><path d="M34.9 202.6L41.2 209M41 202.4L34.6 208.8" fill="none" stroke="#333" stroke-width="1.05" stroke-linejoin="round" stroke-linecap="round" /><path d="M34.1 201.7L35.6 203.2M40.4 201.9L41.6 203.1M34 209.3l1.2-1.2" fill="none" stroke="#333" stroke-width="1.5" stroke-linejoin="round" stroke-linecap="round" /><path d="M33.4 236.2H41.8V243H33.4ZM34.2 234.4H41" fill="none" stroke="#333" stroke-width="1.1" stroke-linejoin="round" stroke-linecap="round" /><path d="M35.3 238.6V240.3H39.9V238.6" fill="none" stroke="#333" stroke-width="1.0" stroke-linejoin="round" stroke-linecap="round" /><path d="M37.5 275.15000000000003L39.15 276.8L37.5 278.45L35.85 276.8Z" fill="none" stroke="#333" stroke-width="0.9" stroke-linejoin="round"/><path d="M34.4 278.45000000000005L36.05 280.1L34.4 281.75L32.75 280.1Z" fill="none" stroke="#333" stroke-width="0.9" stroke-linejoin="round"/><path d="M40.6 278.45000000000005L42.25 280.1L40.6 281.75L38.95 280.1Z" fill="#333" stroke="#333" stroke-width="0.9" stroke-linejoin="round"/><path d="M37.5 281.75L39.15 283.4L37.5 285.04999999999995L35.85 283.4Z" fill="none" stroke="#333" stroke-width="0.9" stroke-linejoin="round"/><path d="M36.7 325.7V317.5H41.7V325.7ZM36.7 321H33.4V325.7H36.7" fill="none" stroke="#333" stroke-width="1.05" stroke-linejoin="round" stroke-linecap="round" /><path d="M38.3 319.3H40.1M38.3 321.3H40.1M38.3 323.3H40.1M34.6 322.9H35.5" fill="none" stroke="#333" stroke-width="0.8" stroke-linejoin="round" stroke-linecap="round" /><path d="M33.4 352.7H41.6V359.8H33.4ZM33.6 352.5L39.8 350.8V352.5" fill="none" stroke="#333" stroke-width="1.05" stroke-linejoin="round" stroke-linecap="round" /><path d="M41.6 355.2H39.6V357.3H41.6" fill="none" stroke="#333" stroke-width="0.9" stroke-linejoin="round" stroke-linecap="round" /><path d="M37.6 393.1a1.9 2.1 0 1 0 0.01 0ZM33.8 401.2C33.8 398.5 35.2 397.5 37.6 397.5C40 397.5 41.4 398.5 41.4 401.2Z" fill="none" stroke="#333" stroke-width="1.05" stroke-linejoin="round" stroke-linecap="round" /><path d="M37 467.5a1.8 2 0 1 0 0.01 0ZM33.4 475.6C33.4 472.9 34.8 471.9 37 471.9C38.7 471.9 39.7 472.4 40.3 473.4M33.4 475.6H39.2" fill="none" stroke="#333" stroke-width="1.05" stroke-linejoin="round" stroke-linecap="round" /><path d="M39.3 467.9c1.7 0.2 2.1 1.7 1.2 3.3" fill="none" stroke="#333" stroke-width="0.95" stroke-linejoin="round" stroke-linecap="round" /><circle cx="41.4" cy="475.7" r="0.85" fill="#333"/><path d="M32.9 500.5H34.4L35.8 507.3H41.2M35 502.4H41.9L41 505.5H35.6" fill="none" stroke="#333" stroke-width="1.05" stroke-linejoin="round" stroke-linecap="round" /><circle cx="36.3" cy="509.1" r="0.8" fill="#333"/><circle cx="40.5" cy="509.1" r="0.8" fill="#333"/><circle cx="33.7" cy="546.7" r="1.0" fill="#2a2f45"/><circle cx="37.6" cy="546.7" r="1.0" fill="#2a2f45"/><circle cx="41.5" cy="546.7" r="1.0" fill="#2a2f45"/><circle cx="390.2" cy="138" r="3.3" fill="none" stroke="#444" stroke-width="1.1"/><path d="M392.6 140.5L394.6 142.6" stroke="#444" stroke-width="1.2" stroke-linecap="round"/><path d="M915.6 141.6C916.6 140.4 916.4 138.6 916.5 137C916.7 135 917.7 134 919 134C920.3 134 921.3 135 921.5 137C921.6 138.6 921.4 140.4 922.4 141.6Z" fill="none" stroke="#333" stroke-width="1.0" stroke-linejoin="round" stroke-linecap="round" /><path d="M918.2 142.9H919.8" fill="none" stroke="#333" stroke-width="1.1" stroke-linejoin="round" stroke-linecap="round" /><circle cx="925.8" cy="132.6" r="4.4" fill="#d43b1f"/><path d="M942.2 138.2L943.6 135.2H949.4L950.8 138.2V142.2H942.2ZM942.2 138.2H950.8" fill="none" stroke="#333" stroke-width="1.0" stroke-linejoin="round" stroke-linecap="round" /><path d="M944.6 140H948.4" fill="none" stroke="#333" stroke-width="1.0" stroke-linejoin="round" stroke-linecap="round" /><path d="M974 134.2a1.9 2.1 0 1 0 0.01 0ZM970.3 142.4C970.3 139.8 971.7 138.7 974 138.7C976.3 138.7 977.7 139.8 977.7 142.4Z" fill="none" stroke="#333" stroke-width="1.0" stroke-linejoin="round" stroke-linecap="round" /><path d="M902.6 170.6a1.7 1.9 0 1 0 0.01 0ZM899.5 178C899.5 175.6 900.6 174.6 902.6 174.6C904.6 174.6 905.7 175.6 905.7 178Z" fill="none" stroke="#333" stroke-width="0.9" stroke-linejoin="round" stroke-linecap="round" /><path d="M905.2 170.8c1.5 0.1 2 1.6 1.1 3M907 175.4L907.8 178" fill="none" stroke="#333" stroke-width="0.9" stroke-linejoin="round" stroke-linecap="round" /><path d="M67.2 204.6H72" stroke="#555" stroke-width="0.8"/><circle cx="66" cy="204.6" r="0.45" fill="#555"/><path d="M67.2 206.5H72" stroke="#555" stroke-width="0.8"/><circle cx="66" cy="206.5" r="0.45" fill="#555"/><path d="M67.2 208.4H72" stroke="#555" stroke-width="0.8"/><circle cx="66" cy="208.4" r="0.45" fill="#555"/><path d="M985.6 205.6H989.8M985.6 208H989.8" stroke="#777" stroke-width="0.6"/><circle cx="988.6" cy="205.6" r="0.8" fill="#777"/><circle cx="986.8" cy="208" r="0.8" fill="#777"/><path d="M334.04999999999995 243.5V246.45H337.0M337.79999999999995 239.75H340.75V242.7" fill="none" stroke="#4a4f63" stroke-width="1.25"/><rect x="352.45" y="238.85" width="1.5" height="1.5" rx="0.5" fill="#4a4f63"/><rect x="352.45" y="242.45" width="1.5" height="1.5" rx="0.5" fill="#4a4f63"/><rect x="352.45" y="245.95" width="1.5" height="1.5" rx="0.5" fill="#4a4f63"/><path d="M645.9499999999999 243.5V246.45H648.9M649.6999999999999 239.75H652.65V242.7" fill="none" stroke="#4a4f63" stroke-width="1.25"/><rect x="664.3499999999999" y="238.85" width="1.5" height="1.5" rx="0.5" fill="#4a4f63"/><rect x="664.3499999999999" y="242.45" width="1.5" height="1.5" rx="0.5" fill="#4a4f63"/><rect x="664.3499999999999" y="245.95" width="1.5" height="1.5" rx="0.5" fill="#4a4f63"/><path d="M958.15 243.5V246.45H961.1M961.9 239.75H964.85V242.7" fill="none" stroke="#4a4f63" stroke-width="1.25"/><rect x="976.55" y="238.85" width="1.5" height="1.5" rx="0.5" fill="#4a4f63"/><rect x="976.55" y="242.45" width="1.5" height="1.5" rx="0.5" fill="#4a4f63"/><rect x="976.55" y="245.95" width="1.5" height="1.5" rx="0.5" fill="#4a4f63"/><path d="M334.04999999999995 431.0V433.95000000000005H337.0M337.79999999999995 427.25H340.75V430.20000000000005" fill="none" stroke="#4a4f63" stroke-width="1.25"/><rect x="352.45" y="426.35" width="1.5" height="1.5" rx="0.5" fill="#4a4f63"/><rect x="352.45" y="429.95" width="1.5" height="1.5" rx="0.5" fill="#4a4f63"/><rect x="352.45" y="433.45" width="1.5" height="1.5" rx="0.5" fill="#4a4f63"/><path d="M645.9499999999999 431.0V433.95000000000005H648.9M649.6999999999999 427.25H652.65V430.20000000000005" fill="none" stroke="#4a4f63" stroke-width="1.25"/><rect x="664.3499999999999" y="426.35" width="1.5" height="1.5" rx="0.5" fill="#4a4f63"/><rect x="664.3499999999999" y="429.95" width="1.5" height="1.5" rx="0.5" fill="#4a4f63"/><rect x="664.3499999999999" y="433.45" width="1.5" height="1.5" rx="0.5" fill="#4a4f63"/></svg>
<div class="t" style="left:905.80px;top:9px;font-size:4.6px;color:#fff;font-weight:bold;transform-origin:50% 50%;transform:translateX(-50%) scaleX(1.000);">2</div>
</div></div>
</body></html>
